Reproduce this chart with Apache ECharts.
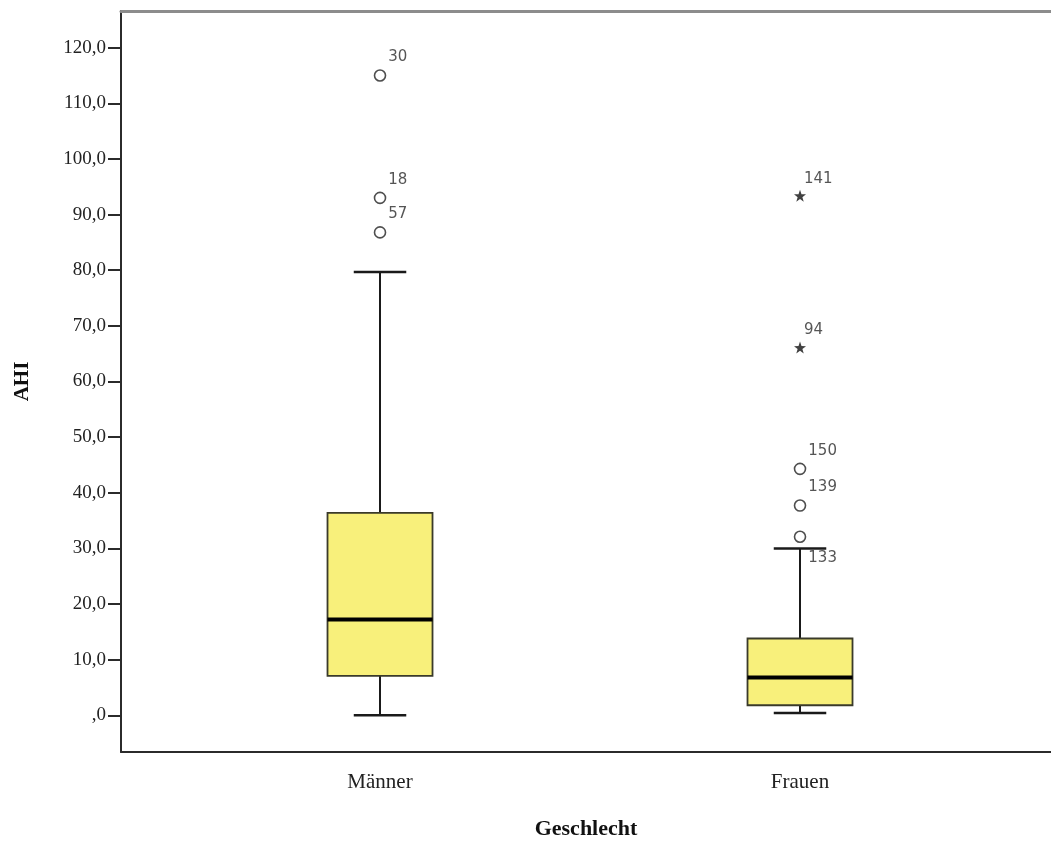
<!DOCTYPE html>
<html>
<head>
<meta charset="utf-8">
<script src="https://cdn.jsdelivr.net/npm/echarts@6/dist/echarts.min.js"></script>
<style>html,body{margin:0;padding:0;background:#fff;overflow:hidden}#c{width:1051px;height:845px}</style>
</head>
<body>
<div id="c"></div>
<script>
// ---- data ----
const categories = ['Männer', 'Frauen'];
// [min, Q1, median, Q3, max] (whisker ends)
const boxMaenner = [0.0, 7.1, 17.2, 36.4, 79.7];
const boxFrauen = [0.4, 1.8, 6.8, 13.8, 30.0];
// outliers: [categoryIndex, value, caseLabel]
const outlierCircles = [
  [0, 115.0, '30'], [0, 93.0, '18'], [0, 86.8, '57'],
  [1, 44.3, '150'], [1, 37.7, '139'], [1, 32.1, '133']
];
const outlierStars = [[1, 93.4, '141'], [1, 66.1, '94']];
const yTicks = [0, 10, 20, 30, 40, 50, 60, 70, 80, 90, 100, 110, 120];

const boxData = [[0].concat(boxMaenner), [1].concat(boxFrauen)];

const chart = echarts.init(document.getElementById('c'), null, {renderer: 'canvas', width: 1051, height: 845});
const serif = 'Liberation Serif';
const sans = 'DejaVu Sans';

const option = {
  animation: false,
  backgroundColor: '#ffffff',
  grid: {left: 121, right: 0, top: 11, height: 746, containLabel: false},
  xAxis: [{
    type: 'value', min: -0.6167, max: 1.5976,
    splitLine: {show: false},
    axisLine: {show: true, onZero: false, lineStyle: {color: '#2b2b2b', width: 2}},
    axisTick: {show: false},
    axisLabel: {
      customValues: [0, 1], margin: 20,
      formatter: v => categories[Math.round(v)],
      fontFamily: serif, fontSize: 21, color: '#222'
    },
    name: 'Geschlecht', nameLocation: 'middle', nameGap: 66,
    nameTextStyle: {fontFamily: serif, fontSize: 22, fontWeight: 'bold', color: '#111'}
  }, {
    type: 'value', position: 'top', min: -0.6167, max: 1.5976,
    splitLine: {show: false},
    axisLine: {show: true, onZero: false, lineStyle: {color: '#8c8c8c', width: 3}},
    axisTick: {show: false}, axisLabel: {show: false}
  }],
  yAxis: {
    type: 'value', min: -6.6, max: 126.6,
    splitLine: {show: false},
    axisLine: {show: true, onZero: false, lineStyle: {color: '#2b2b2b', width: 2}},
    axisTick: {show: true, customValues: yTicks, length: 13, lineStyle: {color: '#2b2b2b', width: 2}},
    axisLabel: {
      customValues: yTicks, margin: 15,
      formatter: v => v === 0 ? ',0' : (v.toFixed(1).replace('.', ',')),
      fontFamily: serif, fontSize: 19, color: '#222'
    },
    name: 'AHI', nameLocation: 'middle', nameGap: 88, nameRotate: 90,
    nameTextStyle: {fontFamily: serif, fontSize: 21, fontWeight: 'bold', color: '#111'}
  },
  series: [{
    type: 'custom',
    data: boxData,
    encode: {x: 0, y: [1, 2, 3, 4, 5]},
    renderItem: function (params, api) {
      const idx = api.value(0);
      const bw = api.size([1, 0])[0] * 0.25;   // box width
      const cw = api.size([1, 0])[0] * 0.125;  // whisker cap width
      const x = api.coord([idx, 0])[0];
      const yMin = api.coord([idx, api.value(1)])[1];
      const yQ1 = api.coord([idx, api.value(2)])[1];
      const yMed = api.coord([idx, api.value(3)])[1];
      const yQ3 = api.coord([idx, api.value(4)])[1];
      const yMax = api.coord([idx, api.value(5)])[1];
      const ls = {stroke: '#1a1a1a', lineWidth: 2};
      return {
        type: 'group',
        children: [
          {type: 'line', shape: {x1: x, y1: yQ3, x2: x, y2: yMax}, style: ls},
          {type: 'line', shape: {x1: x, y1: yMin, x2: x, y2: yQ1}, style: ls},
          {type: 'line', shape: {x1: x - cw / 2, y1: yMax, x2: x + cw / 2, y2: yMax}, style: {stroke: '#1a1a1a', lineWidth: 2.5}},
          {type: 'line', shape: {x1: x - cw / 2, y1: yMin, x2: x + cw / 2, y2: yMin}, style: {stroke: '#1a1a1a', lineWidth: 2.5}},
          {type: 'rect', shape: {x: x - bw / 2, y: yQ3, width: bw, height: yQ1 - yQ3},
            style: {fill: '#f8f07b', stroke: '#3a3a2a', lineWidth: 1.8}},
          {type: 'line', shape: {x1: x - bw / 2, y1: yMed, x2: x + bw / 2, y2: yMed}, style: {stroke: '#000', lineWidth: 4}}
        ]
      };
    }
  }, {
    type: 'scatter',
    data: outlierCircles.map(d => ({value: [d[0], d[1]], name: d[2]})),
    symbol: 'circle', symbolSize: 11,
    itemStyle: {color: '#fff', borderColor: '#222', borderWidth: 1.6},
    label: {
      show: true, formatter: p => p.name, position: 'right', distance: 0,
      offset: [2, -18], fontFamily: sans, fontSize: 15, color: '#2a2a2a'
    },
    z: 5
  }, {
    type: 'scatter',
    data: outlierStars.map(d => ({value: [d[0], d[1]], name: d[2]})),
    symbol: 'path://M0,-10 L2.35,-3.24 L9.51,-3.09 L3.8,1.24 L5.88,8.09 L0,4 L-5.88,8.09 L-3.8,1.24 L-9.51,-3.09 L-2.35,-3.24 Z',
    symbolSize: 12,
    itemStyle: {color: '#111'},
    label: {
      show: true, formatter: p => p.name, position: 'right', distance: 0,
      offset: [-2, -17], fontFamily: sans, fontSize: 15, color: '#2a2a2a'
    },
    z: 5
  }]
};
// special label placement for case 133 (below-right, near the whisker cap)
option.series[1].data[5].label = {offset: [2, 21]};
chart.setOption(option);
</script>
</body>
</html>
